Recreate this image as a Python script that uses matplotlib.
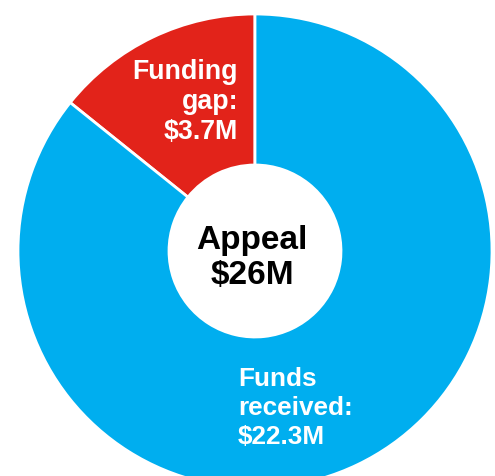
import matplotlib.pyplot as plt

labels = ['Funding\ngap:\n$3.7M', 'Funds\nreceived:\n$22.3M']
values = [3.7, 22.3]
colors = ['#E2231A', '#00AEEF']
total_label = 'Appeal\n$26M'

plt.rcParams['font.family'] = ['Liberation Sans', 'DejaVu Sans']

fig = plt.figure(figsize=(4.95, 4.77), dpi=100)
ax = fig.add_axes([0, 0, 1, 1])

# donut, centre at (0, 0), radius in pixel units
outer = 237
ax.pie(values, colors=colors, startangle=90, counterclock=True, radius=outer,
       wedgeprops=dict(width=151, edgecolor='white', linewidth=2))

ax.set_xlim(-255, 240)
ax.set_ylim(-225, 252)
ax.set_aspect('equal')
ax.axis('off')

ax.text(-17, 150, labels[0], color='white', fontsize=19.3, fontweight='bold',
        ha='right', va='center', linespacing=1.2, multialignment='right')
ax.text(-17, -156, labels[1], color='white', fontsize=18.8, fontweight='bold',
        ha='left', va='center', linespacing=1.25, multialignment='left')
ax.text(-3, -6, total_label, color='black', fontsize=24, fontweight='bold',
        ha='center', va='center', linespacing=1.2)

fig.savefig('out.png', dpi=100, facecolor='white')
